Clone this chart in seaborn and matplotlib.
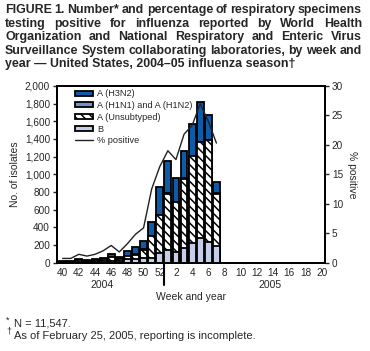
import matplotlib
matplotlib.use("Agg")
import matplotlib.pyplot as plt
import seaborn as sns
import numpy as np
import pandas as pd
from matplotlib.patches import Patch
from matplotlib.lines import Line2D
from matplotlib.ticker import FuncFormatter

# ---- data ----
all_weeks = [40, 41, 42, 43, 44, 45, 46, 47, 48, 49, 50, 51, 52,
             1, 2, 3, 4, 5, 6, 7, 8, 9, 10, 11, 12, 13, 14, 15, 16, 17, 18, 19, 20]
data_weeks = [40, 41, 42, 43, 44, 45, 46, 47, 48, 49, 50, 51, 52, 1, 2, 3, 4, 5, 6, 7]
b_vals      = [5, 5, 10, 8, 10, 15, 20, 20, 36, 36, 47, 55, 105, 140, 125, 160, 225, 280, 230, 188]
unsub_vals  = [6, 6, 15, 10, 15, 25, 40, 25, 38, 55, 100, 245, 430, 640, 560, 790, 978, 1080, 1155, 593]
h1_vals     = [0, 0, 0, 0, 0, 0, 2, 0, 2, 2, 3, 5, 5, 6, 6, 7, 7, 6, 7, 5]
h3_vals     = [4, 4, 10, 7, 10, 15, 33, 15, 55, 80, 91, 152, 315, 367, 266, 302, 364, 454, 284, 125]
pct_positive = [0.7, 0.7, 1.4, 1.1, 1.4, 2.0, 2.9, 1.8, 3.2, 4.8, 5.9, 12.5, 16.3,
                19.0, 17.5, 21.8, 23.3, 27.0, 24.0, 20.3]
tick_weeks = [40, 42, 44, 46, 48, 50, 52, 2, 4, 6, 8, 10, 12, 14, 16, 18, 20]

labels = [str(w) for w in all_weeks]
df = pd.DataFrame({"week": [str(w) for w in data_weeks],
                   "B": b_vals, "U": unsub_vals, "H1": h1_vals, "H3": h3_vals})
df["c_B"] = df["B"]
df["c_U"] = df["c_B"] + df["U"]
df["c_H1"] = df["c_U"] + df["H1"]
df["c_H3"] = df["c_H1"] + df["H3"]

C_H3 = "#0e5ca8"
C_H1 = "#7391cc"
C_B = "#c6cde8"

sns.set_style("ticks")
plt.rcParams["font.family"] = ["Liberation Sans", "DejaVu Sans"]
plt.rcParams["hatch.linewidth"] = 1.1

fig = plt.figure(figsize=(3.7, 3.51), dpi=100)
ax = fig.add_axes([0.154, 0.252, 0.724, 0.503])

layers = [("c_H3", C_H3, None), ("c_H1", C_H1, None), ("c_U", "white", "\\\\\\\\"), ("c_B", C_B, None)]
for col, colr, hatch in layers:
    sns.barplot(data=df, x="week", y=col, order=labels, color=colr, saturation=1,
                edgecolor="black", linewidth=1.3, width=0.84, errorbar=None, ax=ax)
    if hatch:
        n = len(df)
        for p in ax.patches[-n:]:
            p.set_hatch(hatch)

ax.set_ylim(0, 2000)
ax.set_xlim(-0.7, 32.4)
ax.set_yticks(range(0, 2001, 200))
ax.yaxis.set_major_formatter(FuncFormatter(lambda v, p: f"{int(v):,}"))
pos = [all_weeks.index(w) for w in tick_weeks]
ax.set_xticks(pos)
ax.set_xticklabels([str(w) for w in tick_weeks])
ax.tick_params(axis="x", length=0, pad=4, labelsize=7.2)
ax.tick_params(axis="y", length=3, width=1, labelsize=7.2, pad=2)
ax.set_xlabel("")
ax.set_ylabel("")
for s in ax.spines.values():
    s.set_linewidth(1.3)
    s.set_color("black")

ax2 = ax.twinx()
sns.lineplot(x=[all_weeks.index(w) for w in data_weeks], y=pct_positive, ax=ax2,
             color="#222222", linewidth=1.0)
ax2.set_ylim(0, 30)
ax2.set_yticks(range(0, 31, 5))
ax2.tick_params(axis="y", length=3, width=1, labelsize=7.2, pad=2)
for s in ax2.spines.values():
    s.set_linewidth(1.3)
    s.set_color("black")
ax2.set_ylabel("% positive", rotation=270, fontsize=7.5, labelpad=10)

# separator between years
tr = ax.get_xaxis_transform()
ax.plot([12.5, 12.5], [0, -0.13], transform=tr, color="black", lw=1.5, clip_on=False)
ax.text(4.9, -0.128, "2004", transform=tr, ha="center", va="center", fontsize=7.5)
ax.text(25.6, -0.128, "2005", transform=tr, ha="center", va="center", fontsize=7.5)

fig.text(191 / 370, 1 - 297 / 351, "Week and year", ha="center", va="center", fontsize=7.5)
fig.text(15 / 370, 1 - 174 / 351, "No. of isolates", ha="center", va="center",
         rotation=90, fontsize=7.5)

handles = [Patch(facecolor=C_H3, edgecolor="black", linewidth=1.3),
           Patch(facecolor=C_H1, edgecolor="black", linewidth=1.3),
           Patch(facecolor="white", edgecolor="black", linewidth=1.3, hatch="\\\\\\\\"),
           Patch(facecolor=C_B, edgecolor="black", linewidth=1.3),
           Line2D([0], [0], color="#222222", lw=1.0)]
names = ["A (H3N2)", "A (H1N1) and A (H1N2)", "A (Unsubtyped)", "B", "% positive"]
ax2.legend(handles, names, loc="upper left", bbox_to_anchor=(0.045, 1.012), frameon=False,
           fontsize=6.6, handlelength=2.0, handleheight=0.5, handletextpad=0.45,
           labelspacing=0.3, borderaxespad=0.2)

renderer = fig.canvas.get_renderer()

# ---- title, justified like the original ----
title_lines = ["FIGURE 1. Number* and percentage of respiratory specimens",
               "testing positive for influenza reported by World Health",
               "Organization and National Respiratory and Enteric Virus",
               "Surveillance System collaborating laboratories, by week and",
               "year \u2014 United States, 2004\u201305 influenza season\u2020"]
x_left, x_right = 5.0, 362.0
TFS = 8.9
for i, line in enumerate(title_lines):
    ypos = 1 - (10 + i * 13.6) / 351
    words = line.split(" ")
    if i == len(title_lines) - 1:
        fig.text(x_left / 370, ypos, line, ha="left", va="center",
                 fontsize=TFS, fontweight="bold")
        continue
    texts = [fig.text(0, ypos, w, ha="left", va="center", fontsize=TFS, fontweight="bold")
             for w in words]
    widths = [t.get_window_extent(renderer).width for t in texts]
    gap = (x_right - x_left - sum(widths)) / (len(words) - 1)
    gap = max(gap, 2.0)
    xcur = x_left
    for t, w in zip(texts, widths):
        t.set_x(xcur / 370)
        xcur += w + gap

# ---- footnotes (sized to the original's text width) ----
fn2 = fig.text(14 / 370, 1 - 336 / 351, "As of February 25, 2005, reporting is incomplete.",
               ha="left", va="center", fontsize=8.0)
w0 = fn2.get_window_extent(renderer).width
FFS = 8.0 * 241.0 / w0
fn2.set_fontsize(FFS)
fig.text(14 / 370, 1 - 323 / 351, "N = 11,547.", ha="left", va="center", fontsize=FFS)
fig.text(6 / 370, 1 - 320 / 351, "*", ha="left", va="center", fontsize=6.5)
fig.text(6 / 370, 1 - 331 / 351, "\u2020", ha="left", va="center", fontsize=6.5)

fig.savefig("out.png", dpi=100)
